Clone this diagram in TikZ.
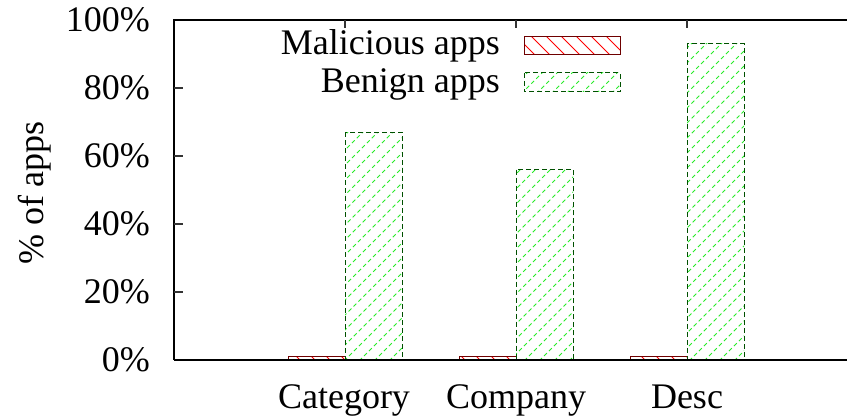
\documentclass[tikz,border=0pt]{standalone}
\usepackage{fontspec}
\setmainfont{Liberation Serif}
\newfontfamily\timesf{Liberation Serif}
\definecolor{malborder}{RGB}{110,0,0}
\definecolor{benborder}{RGB}{0,80,0}
\definecolor{benhatch}{RGB}{40,235,40}
\tikzset{
  axisline/.style={line width=1.6pt, black},
  ticklin/.style={line width=1.2pt, black!80},
  redhatch/.style={red, line width=0.8pt},
  greenhatch/.style={benhatch, line width=1pt, dash pattern=on 4pt off 3pt},
  malbar/.style={draw=malborder, line width=1pt},
  benbar/.style={draw=benborder, line width=1pt, dash pattern=on 5pt off 3pt},
  lbl/.style={inner sep=0pt, font=\timesf\fontsize{36}{40}\selectfont}
}
\newcommand\hatchred[4]{%
  \begin{scope}
    \clip (#1,#2) rectangle (#3,#4);
    \foreach \a in {-450,-435,...,870} \draw[redhatch] (\a,0) -- (\a+450,450);
  \end{scope}}
\newcommand\hatchgreen[4]{%
  \begin{scope}
    \clip (#1,#2) rectangle (#3,#4);
    \foreach \a in {-450,-435,...,870} \draw[greenhatch] (\a,450) -- (\a+450,0);
  \end{scope}}
\begin{document}
\begin{tikzpicture}[x=1pt,y=-1pt]
\useasboundingbox (0,0) rectangle (847,419);
% bars
\foreach \c/\h in {345/132.2, 516/169.6, 687/43.8}{
  \hatchred{\c-57}{356.6}{\c}{360}
  \draw[malbar] (\c-57,356.6) rectangle (\c,360);
  \hatchgreen{\c}{\h}{\c+57}{360}
  \draw[benbar] (\c,\h) rectangle (\c+57,360);
}
% axes frame
\draw[axisline] (174,360) -- (174,20) -- (858,20);
\draw[axisline] (174,360) -- (858,360);
% y ticks
\foreach \y in {292,224,156,88}{
  \draw[ticklin] (174,\y) -- (183,\y);
}
% top x ticks
\foreach \x in {345,516,687}{
  \draw[ticklin] (\x,20) -- (\x,28);
}
% y tick labels
\node[lbl, anchor=east] (y0) at (150,360) {0\%};
\node[lbl, anchor=east] (y20) at (150,292) {20\%};
\node[lbl, anchor=east] (y40) at (150,224) {40\%};
\node[lbl, anchor=east] (y60) at (150,156) {60\%};
\node[lbl, anchor=east] (y80) at (150,88) {80\%};
\node[lbl, anchor=east] (y100) at (150,20) {100\%};
% y label
\node[lbl, rotate=90] (ylab) at (35,193) {\% of apps};
% x labels
\node[lbl, anchor=base] (xcat) at (344,409) {Category};
\node[lbl, anchor=base] (xcom) at (516,409) {Company};
\node[lbl, anchor=base] (xdesc) at (687,409) {Desc};
% legend
\node[lbl, anchor=east] (lmal) at (500,46) {Malicious apps};
\hatchred{524}{37}{620}{55}
\draw[malbar] (524,37) rectangle (620,55);
\node[lbl, anchor=east] (lben) at (500,84) {Benign apps};
\hatchgreen{524}{73}{620}{92}
\draw[benbar] (524,73) rectangle (620,92);
\end{tikzpicture}
\end{document}
